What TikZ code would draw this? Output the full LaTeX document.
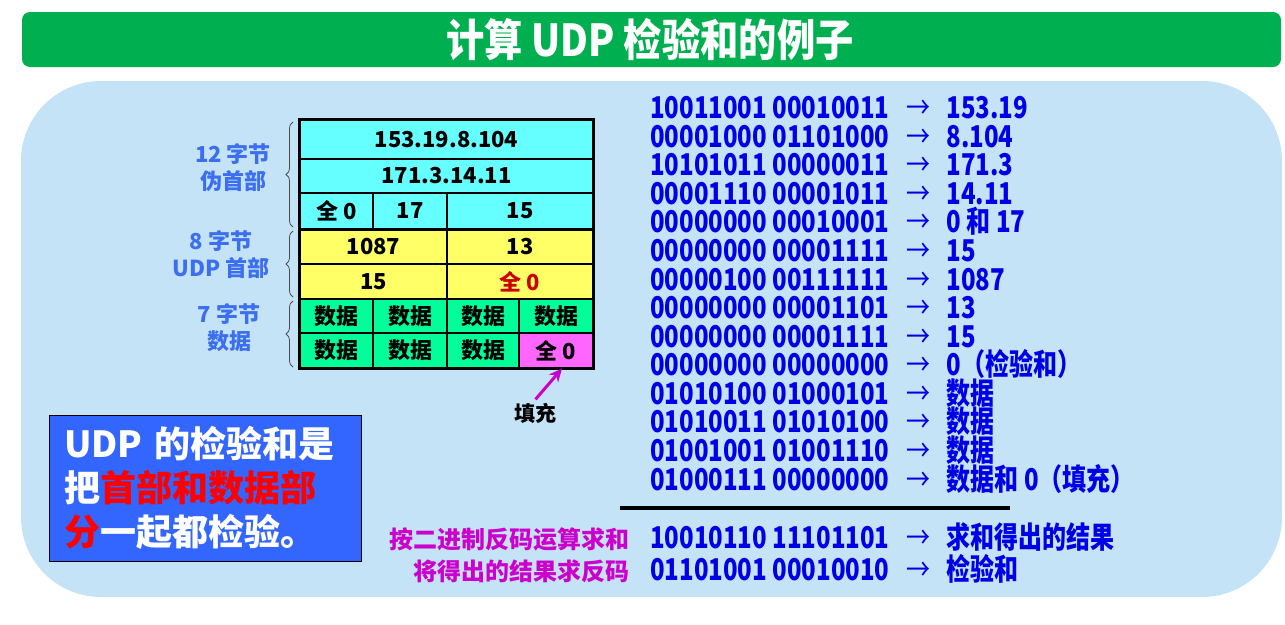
\documentclass[tikz,border=0pt]{standalone}
\usepackage{fontspec}
\setmainfont{Noto Sans CJK SC}
\newfontfamily\etroite{Noto Sans CJK SC}[FakeStretch=0.8]
\newfontfamily\titrefont{Noto Sans CJK SC}[FakeStretch=0.87]
\usetikzlibrary{decorations.pathreplacing,arrows.meta}
\definecolor{vertitre}{RGB}{0,176,80}
\definecolor{fond}{RGB}{196,227,247}
\definecolor{cyanclair}{RGB}{102,255,255}
\definecolor{jaune}{RGB}{255,255,102}
\definecolor{vertdonnees}{RGB}{0,255,153}
\definecolor{rosecase}{RGB}{255,102,255}
\definecolor{rougefonce}{RGB}{204,0,0}
\definecolor{bleutexte}{RGB}{0,0,230}
\definecolor{bleuetiq}{RGB}{60,110,240}
\definecolor{bleuboite}{RGB}{51,102,255}
\definecolor{violet}{RGB}{204,0,204}
\newcommand{\fleche}{\makebox[57pt]{\mdseries →}}

\begin{document}
\begin{tikzpicture}[x=1pt,y=-1pt]
\tikzset{case/.style={draw, line width=1.2pt, inner sep=0pt, font=\fontsize{22}{22}\selectfont\bfseries},
ligne/.style={anchor=base west, inner sep=0pt, text=bleutexte, font=\etroite\fontsize{30}{30}\selectfont\bfseries},
etiq/.style={align=center, text=bleuetiq, font=\fontsize{22}{27}\selectfont\bfseries},
accolade/.style={draw=black!70, line width=0.8pt, decorate, decoration={brace, amplitude=7pt}}}
\useasboundingbox (0,0) rectangle (1285,624);
\fill[white] (0,0) rectangle (1285,624);
% bandeau du titre
\fill[vertitre, rounded corners=8pt] (22,12) rectangle (1281,67);
\node[text=white, font=\titrefont\fontsize{44}{44}\selectfont\bfseries] (titre) at (650,40) {计算 UDP 检验和的例子};
\fill[fond, rounded corners=80pt] (21,81) rectangle (1282,597);
% le tableau
\node[case, fill=cyanclair, minimum width=293pt, minimum height=39pt] (A1) at (446.5,139.5) {153.19.8.104};
\node[case, fill=cyanclair, minimum width=293pt, minimum height=34pt] (B1) at (446.5,176) {171.3.14.11};
\node[case, fill=cyanclair, minimum width=73pt, minimum height=36pt] (C1) at (336.5,211) {全 0};
\node[case, fill=cyanclair, minimum width=74pt, minimum height=36pt] (C2) at (410,211) {17};
\node[case, fill=cyanclair, minimum width=146pt, minimum height=36pt] (C3) at (520,211) {15};
\node[case, fill=jaune, minimum width=147pt, minimum height=35pt] (D1) at (373.5,246.5) {1087};
\node[case, fill=jaune, minimum width=146pt, minimum height=35pt] (D2) at (520,246.5) {13};
\node[case, fill=jaune, minimum width=147pt, minimum height=35pt] (E1) at (373.5,281.5) {15};
\node[case, fill=jaune, minimum width=146pt, minimum height=35pt, text=rougefonce] (E2) at (520,281.5) {全 0};
\node[case, fill=vertdonnees, minimum width=73pt, minimum height=34pt] (F1) at (336.5,316) {数据};
\node[case, fill=vertdonnees, minimum width=74pt, minimum height=34pt] (F2) at (410,316) {数据};
\node[case, fill=vertdonnees, minimum width=72pt, minimum height=34pt] (F3) at (483,316) {数据};
\node[case, fill=vertdonnees, minimum width=74pt, minimum height=34pt] (F4) at (556,316) {数据};
\node[case, fill=vertdonnees, minimum width=73pt, minimum height=35pt] (G1) at (336.5,350.5) {数据};
\node[case, fill=vertdonnees, minimum width=74pt, minimum height=35pt] (G2) at (410,350.5) {数据};
\node[case, fill=vertdonnees, minimum width=72pt, minimum height=35pt] (G3) at (483,350.5) {数据};
\node[case, fill=rosecase, minimum width=74pt, minimum height=35pt] (G4) at (556,350.5) {全 0};
\draw[line width=3pt] (A1.north west) rectangle (G4.south east);
\draw[line width=2.5pt] (C1.south west) -- (C3.south east);
% accolades et etiquettes
\draw[accolade] (293,227) -- (293,122);
\draw[accolade] (293,297) -- (293,231);
\draw[accolade] (293,367) -- (293,301);
\node[etiq] (pseudo) at (233,168) {12 字节\\伪首部};
\node[etiq] (udph) at (221,255) {8 字节\\UDP 首部};
\node[etiq] (donnees) at (229,328) {7 字节\\数据};
\node[font=\fontsize{21}{21}\selectfont\bfseries] (remplissage) at (535.5,413) {填充};
\draw[violet, line width=3pt, -{Stealth[length=13pt,width=12pt]}] (remplissage.north) -- ([xshift=6pt]G4.south);
% la boite bleue
\node[fill=bleuboite, draw=black, line width=1pt, minimum width=312pt, minimum height=146pt,
  text width=282pt, inner xsep=15pt, align=left, text=white, font=\fontsize{36}{44}\selectfont\bfseries]
  (resume) at (205,488) {UDP 的检验和是\\把\textcolor{red}{首部和数据部}\\\textcolor{red}{分}一起都检验。};
% le calcul
\node[ligne] (L1) at (650,118) {10011001 00010011\fleche 153.19};
\node[ligne] (L2) at (650,147) {00001000 01101000\fleche 8.104};
\node[ligne] (L3) at (650,175) {10101011 00000011\fleche 171.3};
\node[ligne] (L4) at (650,204) {00001110 00001011\fleche 14.11};
\node[ligne] (L5) at (650,232) {00000000 00010001\fleche 0 和 17};
\node[ligne] (L6) at (650,261) {00000000 00001111\fleche 15};
\node[ligne] (L7) at (650,290) {00000100 00111111\fleche 1087};
\node[ligne] (L8) at (650,318) {00000000 00001101\fleche 13};
\node[ligne] (L9) at (650,347) {00000000 00001111\fleche 15};
\node[ligne] (L10) at (650,375) {00000000 00000000\fleche 0（检验和）};
\node[ligne] (L11) at (650,404) {01010100 01000101\fleche 数据};
\node[ligne] (L12) at (650,432) {01010011 01010100\fleche 数据};
\node[ligne] (L13) at (650,461) {01001001 01001110\fleche 数据};
\node[ligne] (L14) at (650,490) {01000111 00000000\fleche 数据和 0（填充）};
\draw[line width=4pt] (620,508) -- (1010,508);
\node[ligne] (L15) at (650,548) {10010110 11101101\fleche 求和得出的结果};
\node[ligne] (L16) at (650,580) {01101001 00010010\fleche 检验和};
\node[anchor=base east, inner sep=0pt, text=violet, font=\fontsize{24}{24}\selectfont\bfseries] (somme) at (630,548) {按二进制反码运算求和};
\node[anchor=base east, inner sep=0pt, text=violet, font=\fontsize{24}{24}\selectfont\bfseries] (inverse) at (630,580) {将得出的结果求反码};
\end{tikzpicture}
\end{document}
